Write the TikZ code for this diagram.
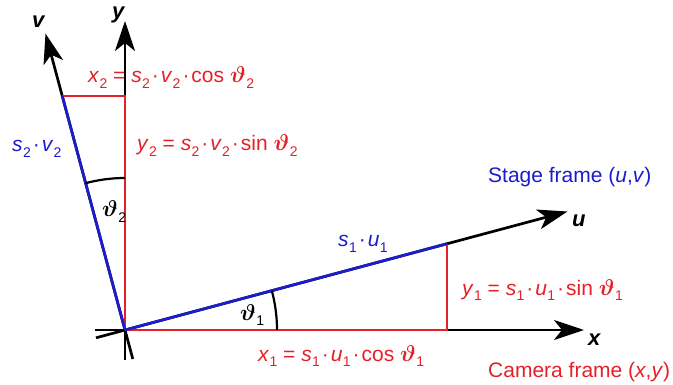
\documentclass[tikz,border=0pt]{standalone}
\usepackage{fontspec}
\setmainfont{Liberation Sans}
\usetikzlibrary{arrows.meta}
\definecolor{myred}{RGB}{228,32,40}
\definecolor{myblue}{RGB}{28,28,205}
\newcommand{\sbs}[1]{\raisebox{-0.28em}{\fontsize{14}{14}\selectfont #1}}
\newcommand{\vb}[2]{\textit{#1}\kern0.3pt\sbs{#2}}
\newcommand{\md}{\kern2pt·\kern2pt}
\newcommand{\thx}[1]{\scalebox{1.1}{\boldmath$\vartheta$}\kern0.5pt\sbs{#1}}
\begin{document}
\begin{tikzpicture}[x=1pt,y=-1pt,
  lbl/.style={inner sep=0pt, anchor=base west, font=\fontsize{21}{25}\selectfont},
  axlbl/.style={lbl, font=\fontsize{22}{25}\selectfont\bfseries\itshape},
  axisline/.style={line width=2.7pt, -{Stealth[length=30pt,width=20pt,inset=8pt]}},
  redl/.style={myred, line width=2.7pt},
  bluel/.style={myblue, line width=2.7pt},
  arcl/.style={line width=2.2pt}]
\useasboundingbox (0,0) rectangle (673,385);
% key points
\coordinate (O) at (125,330);
\coordinate (xt) at (95,330);
\coordinate (xe) at (584,330);
\coordinate (yt) at (125,360);
\coordinate (ye) at (125,21);
\coordinate (ut) at (96,337.8);
\coordinate (ue) at (567.5,211.5);
\coordinate (vt) at (132.8,359);
\coordinate (ve) at (45.5,33.5);
\coordinate (U1) at (447,243.7);
\coordinate (X1) at (447,330);
\coordinate (V2) at (62.3,96);
\coordinate (Y2) at (125,96);
% axes
\draw[axisline] (xt) -- (xe);
\draw[axisline] (yt) -- (ye);
\draw[axisline] (ut) -- (ue);
\draw[axisline] (vt) -- (ve);
% projections
\draw[redl] (O) -- (X1) -- (U1);
\draw[redl] (O) -- (Y2) -- (V2);
\draw[bluel] (O) -- (U1);
\draw[bluel] (O) -- (V2);
% angle arcs
\draw[arcl] (277,330) arc[start angle=0, end angle=-15, radius=152];
\draw[arcl] (125,178) arc[start angle=-90, end angle=-105, radius=152];
% labels
\node[axlbl] (lv) at (32,28) {v};
\node[axlbl] (ly) at (112,19) {y};
\node[axlbl] (lu) at (572,227) {u};
\node[axlbl] (lx) at (588,345) {x};
\node[lbl, myred] (ex2) at (88,83) {\vb{x}{2} = \vb{s}{2}\md\vb{v}{2}\md cos \thx{2}};
\node[lbl, myred] (ey2) at (137,151) {\vb{y}{2} = \vb{s}{2}\md\vb{v}{2}\md sin \thx{2}};
\node[lbl, myblue] (sv2) at (12,152) {\vb{s}{2}\md\vb{v}{2}};
\node[lbl] (th2) at (102,217) {\thx{2}};
\node[lbl] (th1) at (240,320) {\thx{1}};
\node[lbl, myblue] (su1) at (338,247) {\vb{s}{1}\md\vb{u}{1}};
\node[lbl, myblue] (stage) at (488,183) {Stage frame (\textit{u},\textit{v})};
\node[lbl, myred] (ey1) at (462,295) {\vb{y}{1} = \vb{s}{1}\md\vb{u}{1}\md sin \thx{1}};
\node[lbl, myred] (ex1) at (258,361) {\vb{x}{1} = \vb{s}{1}\md\vb{u}{1}\md cos \thx{1}};
\node[lbl, myred] (cam) at (488,377) {Camera frame (\textit{x},\textit{y})};
\end{tikzpicture}
\end{document}
